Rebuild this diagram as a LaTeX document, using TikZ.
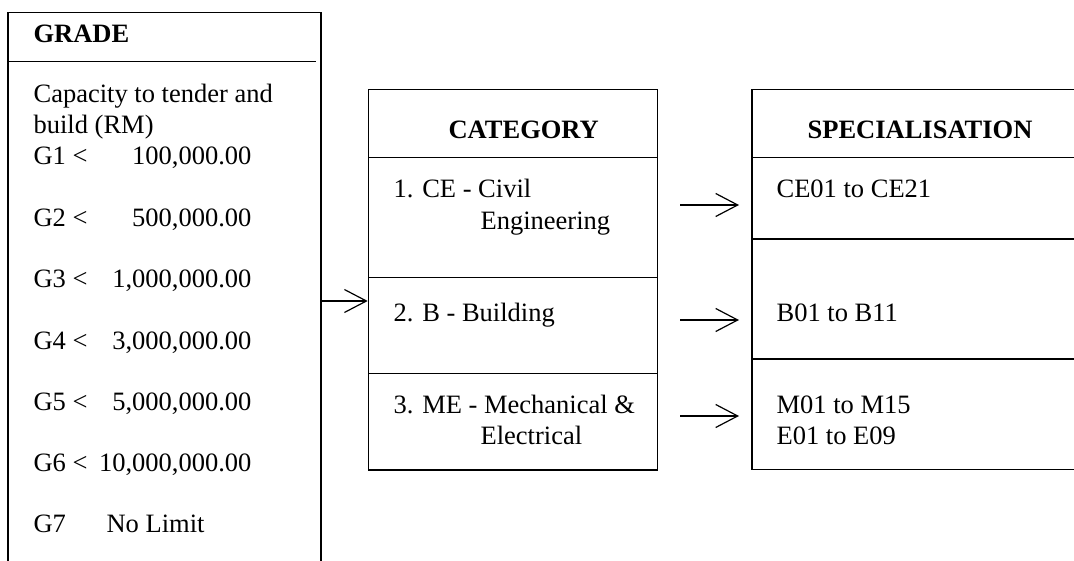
\documentclass[tikz,border=0pt]{standalone}
\usepackage{fontspec}
\setmainfont{Liberation Serif}
\usetikzlibrary{arrows.meta}
\begin{document}
\begin{tikzpicture}[x=1pt,y=-1pt,
  line width=1.2pt,
  txt/.style={anchor=base west, inner sep=0pt, font=\fontsize{26.5}{31}\selectfont},
  ttl/.style={anchor=base west, inner sep=0pt, font=\fontsize{26.5}{31}\selectfont\bfseries},
  num/.style={anchor=base east, inner sep=0pt, font=\fontsize{26.5}{31}\selectfont},
  cell/.style={draw, anchor=north west, inner sep=0pt, minimum width=288.8pt},
  arr/.style={-{Straight Barb[length=22pt,width=23pt]}}]
\useasboundingbox (0,0) rectangle (1074,561);

% GRADE column (open at the bottom)
\coordinate (gTL) at (8,12.7);
\coordinate (gTR) at (321,12.7);
\draw (8,561) -- (gTL) -- (gTR) -- (321,561);
\draw (8,61.3) -- (315.7,61.3);
\node[ttl] (gradeT) at (33,43) {GRADE};
\node[txt] (cap1) at (33,103) {Capacity to tender and};
\node[txt] (cap2) at (33,134) {build (RM)};
\node[txt] (g1) at (33,165) {G1 <};
\node[num] (g1n) at (252,165) {100,000.00};
\node[txt] (g2) at (33,227) {G2 <};
\node[num] (g2n) at (252,227) {500,000.00};
\node[txt] (g3) at (33,288) {G3 <};
\node[num] (g3n) at (252,288) {1,000,000.00};
\node[txt] (g4) at (33,349) {G4 <};
\node[num] (g4n) at (252,349) {3,000,000.00};
\node[txt] (g5) at (33,410) {G5 <};
\node[num] (g5n) at (252,410) {5,000,000.00};
\node[txt] (g6) at (33,471) {G6 <};
\node[num] (g6n) at (252,471) {10,000,000.00};
\node[txt] (g7) at (33,532) {G7};
\node[txt] (g7n) at (106,532) {No Limit};

% CATEGORY column
\node[cell, minimum height=68pt] (cathead) at (367.7,89.3) {};
\node[cell, minimum height=120pt] (cat1) at (367.7,157.3) {};
\node[cell, minimum height=96pt] (cat2) at (367.7,277.3) {};
\node[cell, minimum height=96pt] (cat3) at (367.7,373.3) {};
\node[ttl] (catT) at (448,139) {CATEGORY};
\node[txt] (c1a) at (393,198) {1. CE - Civil};
\node[txt] (c1b) at (480,230) {Engineering};
\node[txt] (c2a) at (393,322) {2. B - Building};
\node[txt] (c3a) at (393,413) {3. ME - Mechanical \&};
\node[txt] (c3b) at (480,444) {Electrical};

% SPECIALISATION column (cut at the right edge)
\draw (1074,89.3) -- (752,89.3) -- (752,469.3) -- (1074,469.3);
\draw (752,157.3) -- (1074,157.3);
\draw (752,239) -- (1074,239);
\draw (752,359) -- (1074,359);
\node[ttl] (specT) at (807,139) {SPECIALISATION};
\node[txt] (s1) at (776,198) {CE01 to CE21};
\node[txt] (s2) at (776,322) {B01 to B11};
\node[txt] (s3a) at (776,413) {M01 to M15};
\node[txt] (s3b) at (776,444) {E01 to E09};

% connectors
\coordinate (gOut) at (321,301);
\coordinate (cIn) at (367.7,301);
\draw[arr] (gOut) -- (cIn);
\coordinate (a1s) at (680,205);
\coordinate (a1e) at (739,205);
\coordinate (a2s) at (680,320);
\coordinate (a2e) at (739,320);
\coordinate (a3s) at (680,416);
\coordinate (a3e) at (739,416);
\draw[arr] (a1s) -- (a1e);
\draw[arr] (a2s) -- (a2e);
\draw[arr] (a3s) -- (a3e);
\end{tikzpicture}
\end{document}
